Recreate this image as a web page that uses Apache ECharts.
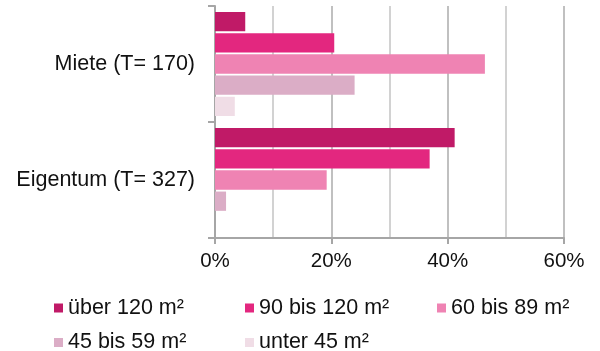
<!DOCTYPE html>
<html>
<head>
<meta charset="utf-8">
<script src="https://cdn.jsdelivr.net/npm/echarts@6/dist/echarts.min.js"></script>
<style>
  html, body { margin: 0; padding: 0; background: #fff; }
  #chart { width: 600px; height: 351px; }
</style>
</head>
<body>
<div id="chart"></div>
<script>
// Wohnfläche nach Wohnverhältnis (Anteile in %)
const categories = ['Miete (T= 170)', 'Eigentum (T= 327)'];
const seriesNames = ['über 120 m²', '90 bis 120 m²', '60 bis 89 m²', '45 bis 59 m²', 'unter 45 m²'];
const ueber120 = [5.2, 41.2];
const von90bis120 = [20.5, 36.9];
const von60bis89 = [46.4, 19.2];
const von45bis59 = [24.0, 1.9];
const unter45 = [3.4, 0];
const xTicks = [0, 20, 40, 60];

const values = [ueber120, von90bis120, von60bis89, von45bis59, unter45];
const colors = ['#C01A67', '#E3277F', '#EF83B3', '#DBADC6', '#F0DDE6'];
const font = '"Liberation Sans", Arial, sans-serif';

const chart = echarts.init(document.getElementById('chart'), null, { renderer: 'canvas' });

// legend laid out as a 3-column grid, one legend component per entry
const legendCols = [49, 240, 432];
const legendRows = [292, 326.5];
const legends = seriesNames.map((name, i) => ({
  left: legendCols[i % 3],
  top: legendRows[Math.floor(i / 3)],
  itemWidth: 9, itemHeight: 9, itemTextGap: 5,
  icon: 'rect',
  textStyle: { fontFamily: font, fontSize: 21.5, color: '#111' },
  data: [name]
}));

chart.setOption({
  animation: false,
  color: colors,
  grid: { left: 215, right: 36, top: 6, bottom: 113, containLabel: false },
  xAxis: {
    type: 'value',
    min: xTicks[0],
    max: xTicks[xTicks.length - 1],
    interval: 20,
    axisLine: { show: true, lineStyle: { color: '#A6A6A6', width: 2 } },
    axisTick: { show: true, length: 6, lineStyle: { color: '#A6A6A6', width: 2 } },
    splitLine: { show: true, lineStyle: { color: '#ABABAB', width: 1.5 } },
    minorTick: { show: false, splitNumber: 2 },
    minorSplitLine: { show: true, lineStyle: { color: '#C4C4C4', width: 1.5 } },
    axisLabel: {
      formatter: v => v + '%',
      fontFamily: font, fontSize: 20.5, color: '#111', margin: 13
    }
  },
  yAxis: {
    type: 'category',
    inverse: true,
    data: categories,
    axisLine: { show: true, lineStyle: { color: '#A6A6A6', width: 2 } },
    axisTick: { show: true, length: 7, lineStyle: { color: '#A6A6A6', width: 2 } },
    axisLabel: { fontFamily: font, fontSize: 21.5, color: '#111', margin: 20 }
  },
  legend: legends,
  series: seriesNames.map((name, i) => ({
    name,
    type: 'bar',
    data: values[i],
    barGap: '10%',
    barCategoryGap: '10.3%',
    itemStyle: { color: colors[i] }
  }))
});
</script>
</body>
</html>
